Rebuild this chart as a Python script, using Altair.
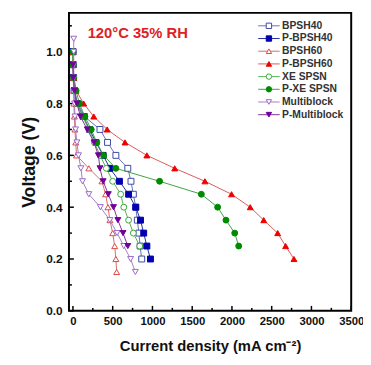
import altair as alt
import pandas as pd

# ---- data ----
series_names = ["BPSH40", "P-BPSH40", "BPSH60", "P-BPSH60",
                "XE SPSN", "P-XE SPSN", "Multiblock", "P-Multiblock"]

bpsh40_v = [1.0, 0.95, 0.9, 0.85, 0.8, 0.75, 0.7, 0.65, 0.6, 0.55, 0.5, 0.45, 0.4, 0.35, 0.3, 0.25, 0.2]
bpsh40_i = [0, 3, 8, 20, 60, 145, 340, 435, 540, 690, 730, 760, 790, 810, 830, 845, 865]

pbpsh40_v = [1.0, 0.95, 0.9, 0.85, 0.8, 0.75, 0.7, 0.65, 0.6, 0.55, 0.5, 0.45, 0.4, 0.35, 0.3, 0.25, 0.2]
pbpsh40_i = [0, 2, 5, 15, 45, 130, 210, 290, 380, 465, 585, 700, 790, 850, 890, 930, 975]

bpsh60_v = [1.0, 0.95, 0.9, 0.85, 0.8, 0.75, 0.7, 0.65, 0.6, 0.55, 0.5, 0.45, 0.4, 0.35, 0.3, 0.25, 0.2, 0.15]
bpsh60_i = [0, 2, 4, 8, 12, 18, 25, 35, 45, 200, 365, 410, 440, 465, 500, 525, 540, 550]

pbpsh60_v = [1.0, 0.95, 0.9, 0.85, 0.8, 0.75, 0.7, 0.65, 0.6, 0.55, 0.5, 0.45, 0.4, 0.35, 0.3, 0.25, 0.2]
pbpsh60_i = [0, 3, 10, 40, 135, 262, 430, 655, 930, 1280, 1660, 1995, 2230, 2400, 2575, 2675, 2780]

xespsn_v = [1.0, 0.95, 0.9, 0.85, 0.8, 0.75, 0.7, 0.65, 0.6, 0.55, 0.5, 0.45, 0.4, 0.35, 0.3, 0.25]
xespsn_i = [0, 3, 8, 20, 50, 120, 200, 270, 340, 420, 500, 600, 640, 700, 760, 840]

pxespsn_v = [1.0, 0.95, 0.9, 0.85, 0.8, 0.75, 0.7, 0.65, 0.6, 0.55, 0.5, 0.45, 0.4, 0.35, 0.3, 0.25]
pxespsn_i = [0, 3, 10, 40, 80, 150, 230, 300, 385, 540, 1090, 1615, 1820, 1925, 2035, 2085]

multi_v = [1.05, 1.0, 0.95, 0.9, 0.85, 0.8, 0.75, 0.7, 0.65, 0.6, 0.55, 0.5, 0.45, 0.4, 0.35, 0.3, 0.25, 0.2, 0.15]
multi_i = [10, 10, 10, 12, 15, 20, 25, 33, 50, 70, 100, 120, 200, 345, 465, 555, 640, 725, 785]

pmulti_v = [0.95, 0.9, 0.85, 0.8, 0.75, 0.7, 0.65, 0.6, 0.55, 0.5, 0.45, 0.4, 0.35, 0.3, 0.25]
pmulti_i = [0, 5, 20, 50, 95, 180, 265, 320, 340, 380, 445, 510, 565, 630, 690]

x_ticks = [0, 500, 1000, 1500, 2000, 2500, 3000, 3500]
x_minor = [250, 750, 1250, 1750, 2250, 2750, 3250]
y_ticks = [0.0, 0.2, 0.4, 0.6, 0.8, 1.0]
y_minor = [0.1, 0.3, 0.5, 0.7, 0.9, 1.1]

# ---- styles ----
styles = {
    "BPSH40":      dict(shape="square",        filled=False, mc="#3c48a6", lc="#6470b8"),
    "P-BPSH40":    dict(shape="square",        filled=True,  mc="#0000b0", lc="#2030a0"),
    "BPSH60":      dict(shape="triangle-up",   filled=False, mc="#d84848", lc="#d86a6a"),
    "P-BPSH60":    dict(shape="triangle-up",   filled=True,  mc="#ee0000", lc="#d85a5a"),
    "XE SPSN":     dict(shape="circle",        filled=False, mc="#38a838", lc="#58b058"),
    "P-XE SPSN":   dict(shape="circle",        filled=True,  mc="#008a00", lc="#40a040"),
    "Multiblock":  dict(shape="triangle-down", filled=False, mc="#9a68c8", lc="#a47cc8"),
    "P-Multiblock": dict(shape="triangle-down", filled=True, mc="#70009a", lc="#8030a0"),
}

data = {
    "BPSH40": (bpsh40_i, bpsh40_v), "P-BPSH40": (pbpsh40_i, pbpsh40_v),
    "BPSH60": (bpsh60_i, bpsh60_v), "P-BPSH60": (pbpsh60_i, pbpsh60_v),
    "XE SPSN": (xespsn_i, xespsn_v), "P-XE SPSN": (pxespsn_i, pxespsn_v),
    "Multiblock": (multi_i, multi_v), "P-Multiblock": (pmulti_i, pmulti_v),
}

FONT = "Liberation Sans"
W, H = 287, 303

xscale = alt.Scale(domain=[-50, 3500], nice=False, zero=False)
yscale = alt.Scale(domain=[0, 1.15], nice=False, zero=False)

axis_font = dict(labelFont=FONT, labelFontWeight="bold", labelColor="#111111",
                 titleFont=FONT, titleFontWeight="bold", titleColor="#111111",
                 labelFlush=False, labelOverlap=False)

x_enc = alt.X("i:Q", scale=xscale,
              axis=alt.Axis(values=x_ticks, title="Current density (mA cm⁻²)", format="d",
                            tickSize=0, labelPadding=5, titlePadding=12, titleFontSize=15,
                            labelFontSize=11.5, domain=False, grid=False, **axis_font))
y_enc = alt.Y("v:Q", scale=yscale,
              axis=alt.Axis(values=y_ticks, title="Voltage (V)", format=".1f",
                            tickSize=0, labelPadding=7, titlePadding=7, titleFontSize=18,
                            labelFontSize=12, domain=False, grid=False, **axis_font))

layers = []
# inward ticks
layers.append(alt.Chart(pd.DataFrame({"i": x_ticks})).mark_rule(color="black", strokeWidth=1.5)
              .encode(x=x_enc, y=alt.value(H), y2=alt.value(H - 5)))
layers.append(alt.Chart(pd.DataFrame({"i": x_minor})).mark_rule(color="black", strokeWidth=1.5)
              .encode(x=x_enc, y=alt.value(H), y2=alt.value(H - 3)))
layers.append(alt.Chart(pd.DataFrame({"v": y_ticks})).mark_rule(color="black", strokeWidth=1.5)
              .encode(y=y_enc, x=alt.value(0), x2=alt.value(5)))
layers.append(alt.Chart(pd.DataFrame({"v": y_minor})).mark_rule(color="black", strokeWidth=1.5)
              .encode(y=y_enc, x=alt.value(0), x2=alt.value(3)))

# series
for name in series_names:
    st = styles[name]
    ii, vv = data[name]
    df = pd.DataFrame({"i": ii, "v": vv, "o": list(range(len(ii)))})
    base = alt.Chart(df)
    layers.append(base.mark_line(color=st["lc"], strokeWidth=1)
                  .encode(x=x_enc, y=y_enc, order="o:Q"))
    layers.append(base.mark_point(shape=st["shape"], size=36, strokeWidth=1,
                                  filled=False,
                                  fill=st["mc"] if st["filled"] else "white",
                                  fillOpacity=1, stroke=st["mc"], opacity=1)
                  .encode(x=x_enc, y=y_enc))

# legend (inside, top right)
leg_y0, leg_dy = 1.100, 0.049
for k, name in enumerate(series_names):
    st = styles[name]
    ly = leg_y0 - k * leg_dy
    seg = pd.DataFrame({"i": [2330, 2600], "v": [ly, ly]})
    layers.append(alt.Chart(seg).mark_line(color=st["lc"], strokeWidth=1)
                  .encode(x=x_enc, y=y_enc))
    pt = pd.DataFrame({"i": [2465], "v": [ly]})
    layers.append(alt.Chart(pt).mark_point(shape=st["shape"], size=30, strokeWidth=1,
                                           filled=False,
                                           fill=st["mc"] if st["filled"] else "white",
                                           fillOpacity=1, stroke=st["mc"], opacity=1)
                  .encode(x=x_enc, y=y_enc))
    tx = pd.DataFrame({"i": [2630], "v": [ly], "t": [name]})
    layers.append(alt.Chart(tx).mark_text(align="left", baseline="middle", font=FONT,
                                          fontSize=10.5, fontWeight="bold", color="#333333")
                  .encode(x=x_enc, y=y_enc, text="t:N"))

# annotation
ann = pd.DataFrame({"i": [185], "v": [1.072], "t": ["120°C 35% RH"]})
layers.append(alt.Chart(ann).mark_text(align="left", baseline="middle", font=FONT,
                                       fontSize=15, fontWeight="bold", color="#dd2222")
              .encode(x=x_enc, y=y_enc, text="t:N"))

# frame
layers.append(alt.Chart(pd.DataFrame({"v": [0]})).mark_rect(
    fill="white", fillOpacity=0, stroke="black", strokeWidth=2)
    .encode(x=alt.value(0), x2=alt.value(W), y=alt.value(0), y2=alt.value(H)))

chart = alt.layer(*layers).properties(
    width=W, height=H,
    autosize=alt.AutoSizeParams(type="none"),
    padding={"left": 62, "top": 2, "right": 12, "bottom": 44},
    background="white",
).configure_view(
    stroke=None
)

chart.save("out.html", embed_options={"renderer": "svg", "actions": False})
